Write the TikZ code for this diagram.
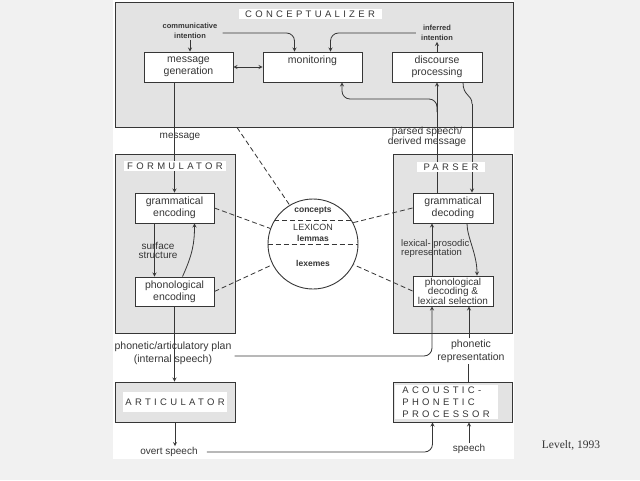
\documentclass[tikz,border=0pt]{standalone}
\usepackage{fontspec}
\setmainfont{Liberation Sans}
\newfontfamily\titlefont[LetterSpace=35]{Liberation Sans}
\newfontfamily\citefont{Liberation Serif}
\definecolor{ink}{HTML}{363636}
\definecolor{panel}{HTML}{E3E3E3}
\definecolor{pagegray}{HTML}{F1F1F1}

\begin{document}
\begin{tikzpicture}[x=1pt, y=-1pt,
        compbox/.style={rectangle, draw=ink, fill=panel, line width=0.9pt},
        procbox/.style={rectangle, draw=ink, fill=white, text=ink, line width=0.9pt, align=center, inner sep=1pt, font=\fontsize{10.5}{12}\selectfont},
        titlebox/.style={fill=white, text=ink, inner sep=2pt, font=\titlefont\fontsize{9.5}{12}\selectfont},
        labeltext/.style={text=ink, align=center, inner sep=1pt, font=\fontsize{10}{11}\selectfont},
        smalllabel/.style={text=ink, align=center, inner sep=1pt, font=\bfseries\fontsize{7.5}{10}\selectfont},
        lextext/.style={text=ink, inner sep=1pt, font=\bfseries\fontsize{8.5}{10}\selectfont},
        arrowline/.style={draw=ink, line width=0.8pt},
        lexline/.style={draw=ink, dashed, dash pattern=on 5pt off 3pt, line width=0.8pt}]
            \useasboundingbox[fill=pagegray] (0, 0) rectangle (640, 480);
            \fill[white] (113, 0) rectangle (514, 459);

            % the five processing components
            \node (concept) at (314, 64.5) [compbox, minimum width=398, minimum height=125] {};
            \node (formul) at (175, 243.5) [compbox, minimum width=120, minimum height=179] {};
            \node (parser) at (452.5, 243.5) [compbox, minimum width=119, minimum height=179] {};
            \node (artic) at (175, 402) [compbox, minimum width=120, minimum height=40] {};
            \node (acoustic) at (452.5, 402) [compbox, minimum width=119, minimum height=40] {};

            \node (msggen) at (188.5, 67) [procbox, minimum width=89, minimum height=30] {message\\generation};
            \node (monitor) at (312.5, 67) [procbox, minimum width=99, minimum height=30] {monitoring\\\phantom{g}};
            \node (discproc) at (437, 67) [procbox, minimum width=90, minimum height=30] {discourse\\processing};
            \node (genc) at (174.5, 208) [procbox, minimum width=79, minimum height=30] {grammatical\\encoding};
            \node (penc) at (174.5, 291.5) [procbox, minimum width=79, minimum height=29] {phonological\\encoding};
            \node (gdec) at (453, 208) [procbox, minimum width=80, minimum height=30] {grammatical\\decoding};
            \node (pdec) at (453, 291) [procbox, minimum width=80, minimum height=30, font=\fontsize{10}{9.5}\selectfont] {phonological\\decoding \&\\lexical selection};

            % lexicon
            \node (lexicon) at (313, 244) [circle, draw=ink, fill=white, line width=0.9pt, minimum size=90] {};
            \node (concepts) at (313, 211) [lextext] {concepts};
            \node (lexword) at (313, 227) [lextext, font=\fontsize{9}{10}\selectfont] {LEXICON};
            \node (lemmas) at (313, 238) [lextext] {lemmas};
            \node (lexemes) at (313, 263) [lextext] {lexemes};
            \draw[lexline] (lexicon.148) -- (lexicon.32);
            \draw[lexline] (lexicon.181) -- (lexicon.-1);

            % labels
            \node (commint) at (190, 31) [smalllabel] {communicative\\intention};
            \node (infint) at (437, 33) [smalllabel] {inferred\\intention};
            \node (msglabel) at (180, 137) [labeltext] {message};
            \node (parsedlabel) at (427, 137) [labeltext, font=\fontsize{10.3}{9}\selectfont] {parsed speech/\\derived message};
            \node (surflabel) at (158, 250) [labeltext, font=\fontsize{10}{9}\selectfont] {surface\\structure};
            \node (lexproslabel) at (400, 249) [labeltext, anchor=west, align=left, font=\fontsize{9.5}{9}\selectfont] {lexical- prosodic\\representation};
            \node (planlabel) at (173, 353) [labeltext, font=\fontsize{10.5}{13}\selectfont] {phonetic/articulatory plan\\(internal speech)};
            \node (phonreplabel) at (471, 351) [labeltext, font=\fontsize{10.5}{13}\selectfont] {phonetic\\representation};
            \node (overtlabel) at (169, 452) [labeltext] {overt speech};
            \node (speechlabel) at (469, 449) [labeltext] {speech};
            \node (citation) at (571, 445) [text=ink, font=\citefont\fontsize{11.5}{13}\selectfont] {Levelt, 1993};

            % conceptualizer
            \draw[arrowline, -stealth] (commint.south) -- (commint.south |- msggen.north);
            \draw[arrowline, -stealth, rounded corners=8] ([xshift=4, yshift=-2]commint.east) -| ([xshift=-18]monitor.north);
            \draw[arrowline, -stealth, rounded corners=8] ([xshift=-4]infint.west) -| ([xshift=18]monitor.north);
            \draw[arrowline, -stealth] (discproc.north) -- (infint.south);
            \draw[arrowline, stealth-stealth] (msggen) -- (monitor);
            \draw[arrowline, -stealth] (discproc.south |- gdec.north) -- (discproc.south);
            \coordinate (parsedsplit) at (437, 112);
            \coordinate (monitorturn) at (342, 99);
            \draw[arrowline, -stealth, rounded corners=8] (parsedsplit) |- (monitorturn) -- (monitorturn |- monitor.south);
            \coordinate (dpbend) at (472, 104);
            \draw[arrowline] ([xshift=26]discproc.south) .. controls +(0, 14) and +(0, -10) .. (dpbend);
            \draw[arrowline, -stealth] (dpbend) -- (dpbend |- gdec.north);

            % formulator
            \draw[arrowline, -stealth] (genc.north |- msggen.south) -- (genc.north);
            \draw[arrowline, -stealth] ([xshift=-20]genc.south) -- ([xshift=-20]penc.north);
            \draw[arrowline, -stealth] ([xshift=8]penc.north) .. controls +(10, -22) and +(0, 20) .. ([xshift=20]genc.south);
            \draw[arrowline, -stealth] (penc.south) -- (penc.south |- artic.north);
            \draw[arrowline, -stealth, rounded corners=8] ([xshift=2, yshift=-3]planlabel.east) -| ([xshift=-21]pdec.south);

            % parser
            \draw[arrowline, -stealth] ([xshift=-21]pdec.north) -- ([xshift=-21]gdec.south);
            \draw[arrowline, -stealth] ([xshift=14]gdec.south) .. controls +(0, 14) and +(0, -22) .. ([xshift=24]pdec.north);
            \draw[arrowline] ([xshift=16]acoustic.north) -- ([xshift=16]acoustic.north |- phonreplabel.south);
            \draw[arrowline, -stealth] ([xshift=16]pdec.south |- phonreplabel.north) -- ([xshift=16]pdec.south);

            % articulator and audition
            \draw[arrowline, -stealth] (artic.south) -- (artic.south |- overtlabel.north);
            \draw[arrowline, -stealth, rounded corners=8] ([xshift=8]overtlabel.east) -| ([xshift=-20]acoustic.south);
            \draw[arrowline, -stealth] (speechlabel.north) -- (speechlabel.north |- acoustic.south);

            % links to the lexicon
            \draw[lexline] ([xshift=-77]concept.south) -- (lexicon.121);
            \draw[lexline] (genc.east) -- (lexicon.160);
            \draw[lexline] (penc.east) -- (lexicon.207);
            \draw[lexline] (gdec.west) -- (lexicon.28);
            \draw[lexline] (pdec.west) -- (lexicon.333);

            % titles
            \node (concepttitle) at (310, 14) [titlebox, minimum width=143] {CONCEPTUALIZER};
            \node (formtitle) at (175, 166) [titlebox, minimum width=102] {FORMULATOR};
            \node (parsetitle) at (451, 167) [titlebox, minimum width=68] {PARSER};
            \node (artictitle) at (175, 402) [titlebox, minimum width=102, minimum height=20] {ARTICULATOR};
            \node (acoustitle) at (446, 402) [titlebox, align=left, minimum width=103] {ACOUSTIC-\\PHONETIC\\PROCESSOR};
        \end{tikzpicture}
\end{document}
